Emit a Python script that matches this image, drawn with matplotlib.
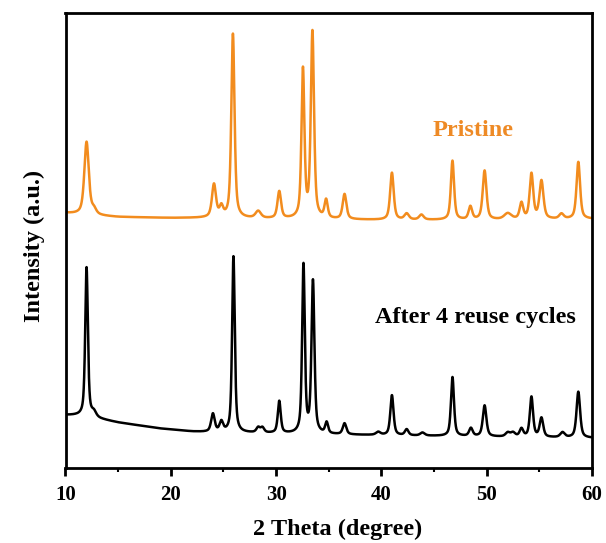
import numpy as np
import matplotlib
matplotlib.use("Agg")
import matplotlib.pyplot as plt
from matplotlib.ticker import MultipleLocator

plt.rcParams["font.family"] = ["Liberation Serif", "DejaVu Serif"]
plt.rcParams["font.weight"] = "bold"

# reflections of the as-made sample: 2theta, height above background, FWHM
pristine_pos = [12.0, 12.7, 24.1, 24.8, 25.9, 28.3, 30.3, 32.55, 33.45, 34.75, 36.5,
                41.0, 42.4, 43.8, 46.75, 48.45, 49.8, 52.0, 53.3, 54.25, 55.2, 57.1, 58.7]
pristine_height = [73, 5, 33, 10, 184, 7, 27, 148, 186, 18, 25,
                   47, 6, 5, 59, 13, 49, 6, 16, 45, 38, 5, 57]
pristine_fwhm = [0.5, 0.5, 0.45, 0.4, 0.36, 0.6, 0.4, 0.33, 0.36, 0.36, 0.42,
                 0.4, 0.5, 0.5, 0.36, 0.4, 0.42, 0.8, 0.4, 0.4, 0.45, 0.5, 0.4]
pristine_bg_x = [10, 12, 15, 20, 24, 30, 40, 50, 60]
pristine_bg_y = [255, 253, 251, 250, 250, 249, 248, 248, 249]

# reflections after four reuse cycles
reused_pos = [12.0, 12.7, 24.0, 24.8, 25.95, 28.3, 28.7, 30.3, 32.6, 33.5, 34.8, 36.5,
              39.7, 41.0, 42.4, 43.9, 46.75, 48.5, 49.8, 52.0, 52.5, 53.3, 54.25, 55.2,
              57.2, 58.7]
reused_height = [149, 5, 18, 10, 176, 5, 5, 32, 168, 152, 11, 11,
                 3, 40, 6, 3, 59, 8, 31, 4, 4, 8, 40, 19,
                 5, 46]
reused_fwhm = [0.3, 0.5, 0.4, 0.4, 0.3, 0.4, 0.4, 0.33, 0.3, 0.33, 0.33, 0.4,
               0.5, 0.36, 0.4, 0.5, 0.34, 0.4, 0.4, 0.5, 0.5, 0.4, 0.36, 0.4,
               0.5, 0.4]
reused_bg_x = [10, 11, 12, 13, 14, 15, 16, 17, 18, 19, 20, 21, 22, 23, 25, 28, 32, 38, 45, 52, 60]
reused_bg_y = [53, 52.5, 51.5, 49.5, 47.5, 45.5, 44, 42.5, 41, 39.5, 38.5, 37.5, 36.5, 36,
               35.5, 35, 34, 33, 32, 31, 30]


def pattern(tt, pos, height, fwhm, bg_x, bg_y, eta=0.6):
    y = np.interp(tt, bg_x, bg_y).astype(float)
    for p, h, w in zip(pos, height, fwhm):
        d = (tt - p) / (w / 2)
        lor = 1 / (1 + d ** 2)
        gau = np.exp(-np.log(2) * d ** 2)
        y += h * (eta * lor + (1 - eta) * gau)
    return y


tt = np.linspace(10, 60, 5001)
pristine = pattern(tt, pristine_pos, pristine_height, pristine_fwhm, pristine_bg_x, pristine_bg_y)
reused = pattern(tt, reused_pos, reused_height, reused_fwhm, reused_bg_x, reused_bg_y)

fig = plt.figure(figsize=(6.06, 5.43), dpi=100)
ax = fig.add_axes([65.5 / 606, 1 - 468 / 543, (592 - 65.5) / 606, (468 - 13) / 543])

ax.plot(tt, reused, color="black", lw=1.8)
ax.plot(tt, pristine, color="#f28c1e", lw=1.8)

ax.text(48.7, 338, "Pristine", color="#ee8a25", fontsize=17.5, fontweight="bold",
        ha="center", va="center")
ax.text(48.9, 150, "After 4 reuse cycles", color="black", fontsize=17.5,
        fontweight="bold", ha="center", va="center")

ax.set_xlim(10, 60)
ax.set_ylim(0, 455)
ax.set_yticks([])
ax.xaxis.set_major_locator(MultipleLocator(10))
ax.xaxis.set_minor_locator(MultipleLocator(5))
ax.tick_params(axis="x", which="major", direction="out", length=6, width=2,
               labelsize=15, pad=6)
ax.tick_params(axis="x", which="minor", direction="out", length=3, width=1.5)
for s in ax.spines.values():
    s.set_linewidth(2)

ax.set_xlabel("2 Theta (degree)", fontsize=17.5, fontweight="bold")
ax.set_ylabel("Intensity (a.u.)", fontsize=17.5, fontweight="bold")
ax.xaxis.set_label_coords(0.5176, -0.111)
ax.yaxis.set_label_coords(-0.039, 0.488)

fig.savefig("out.png", dpi=100)
